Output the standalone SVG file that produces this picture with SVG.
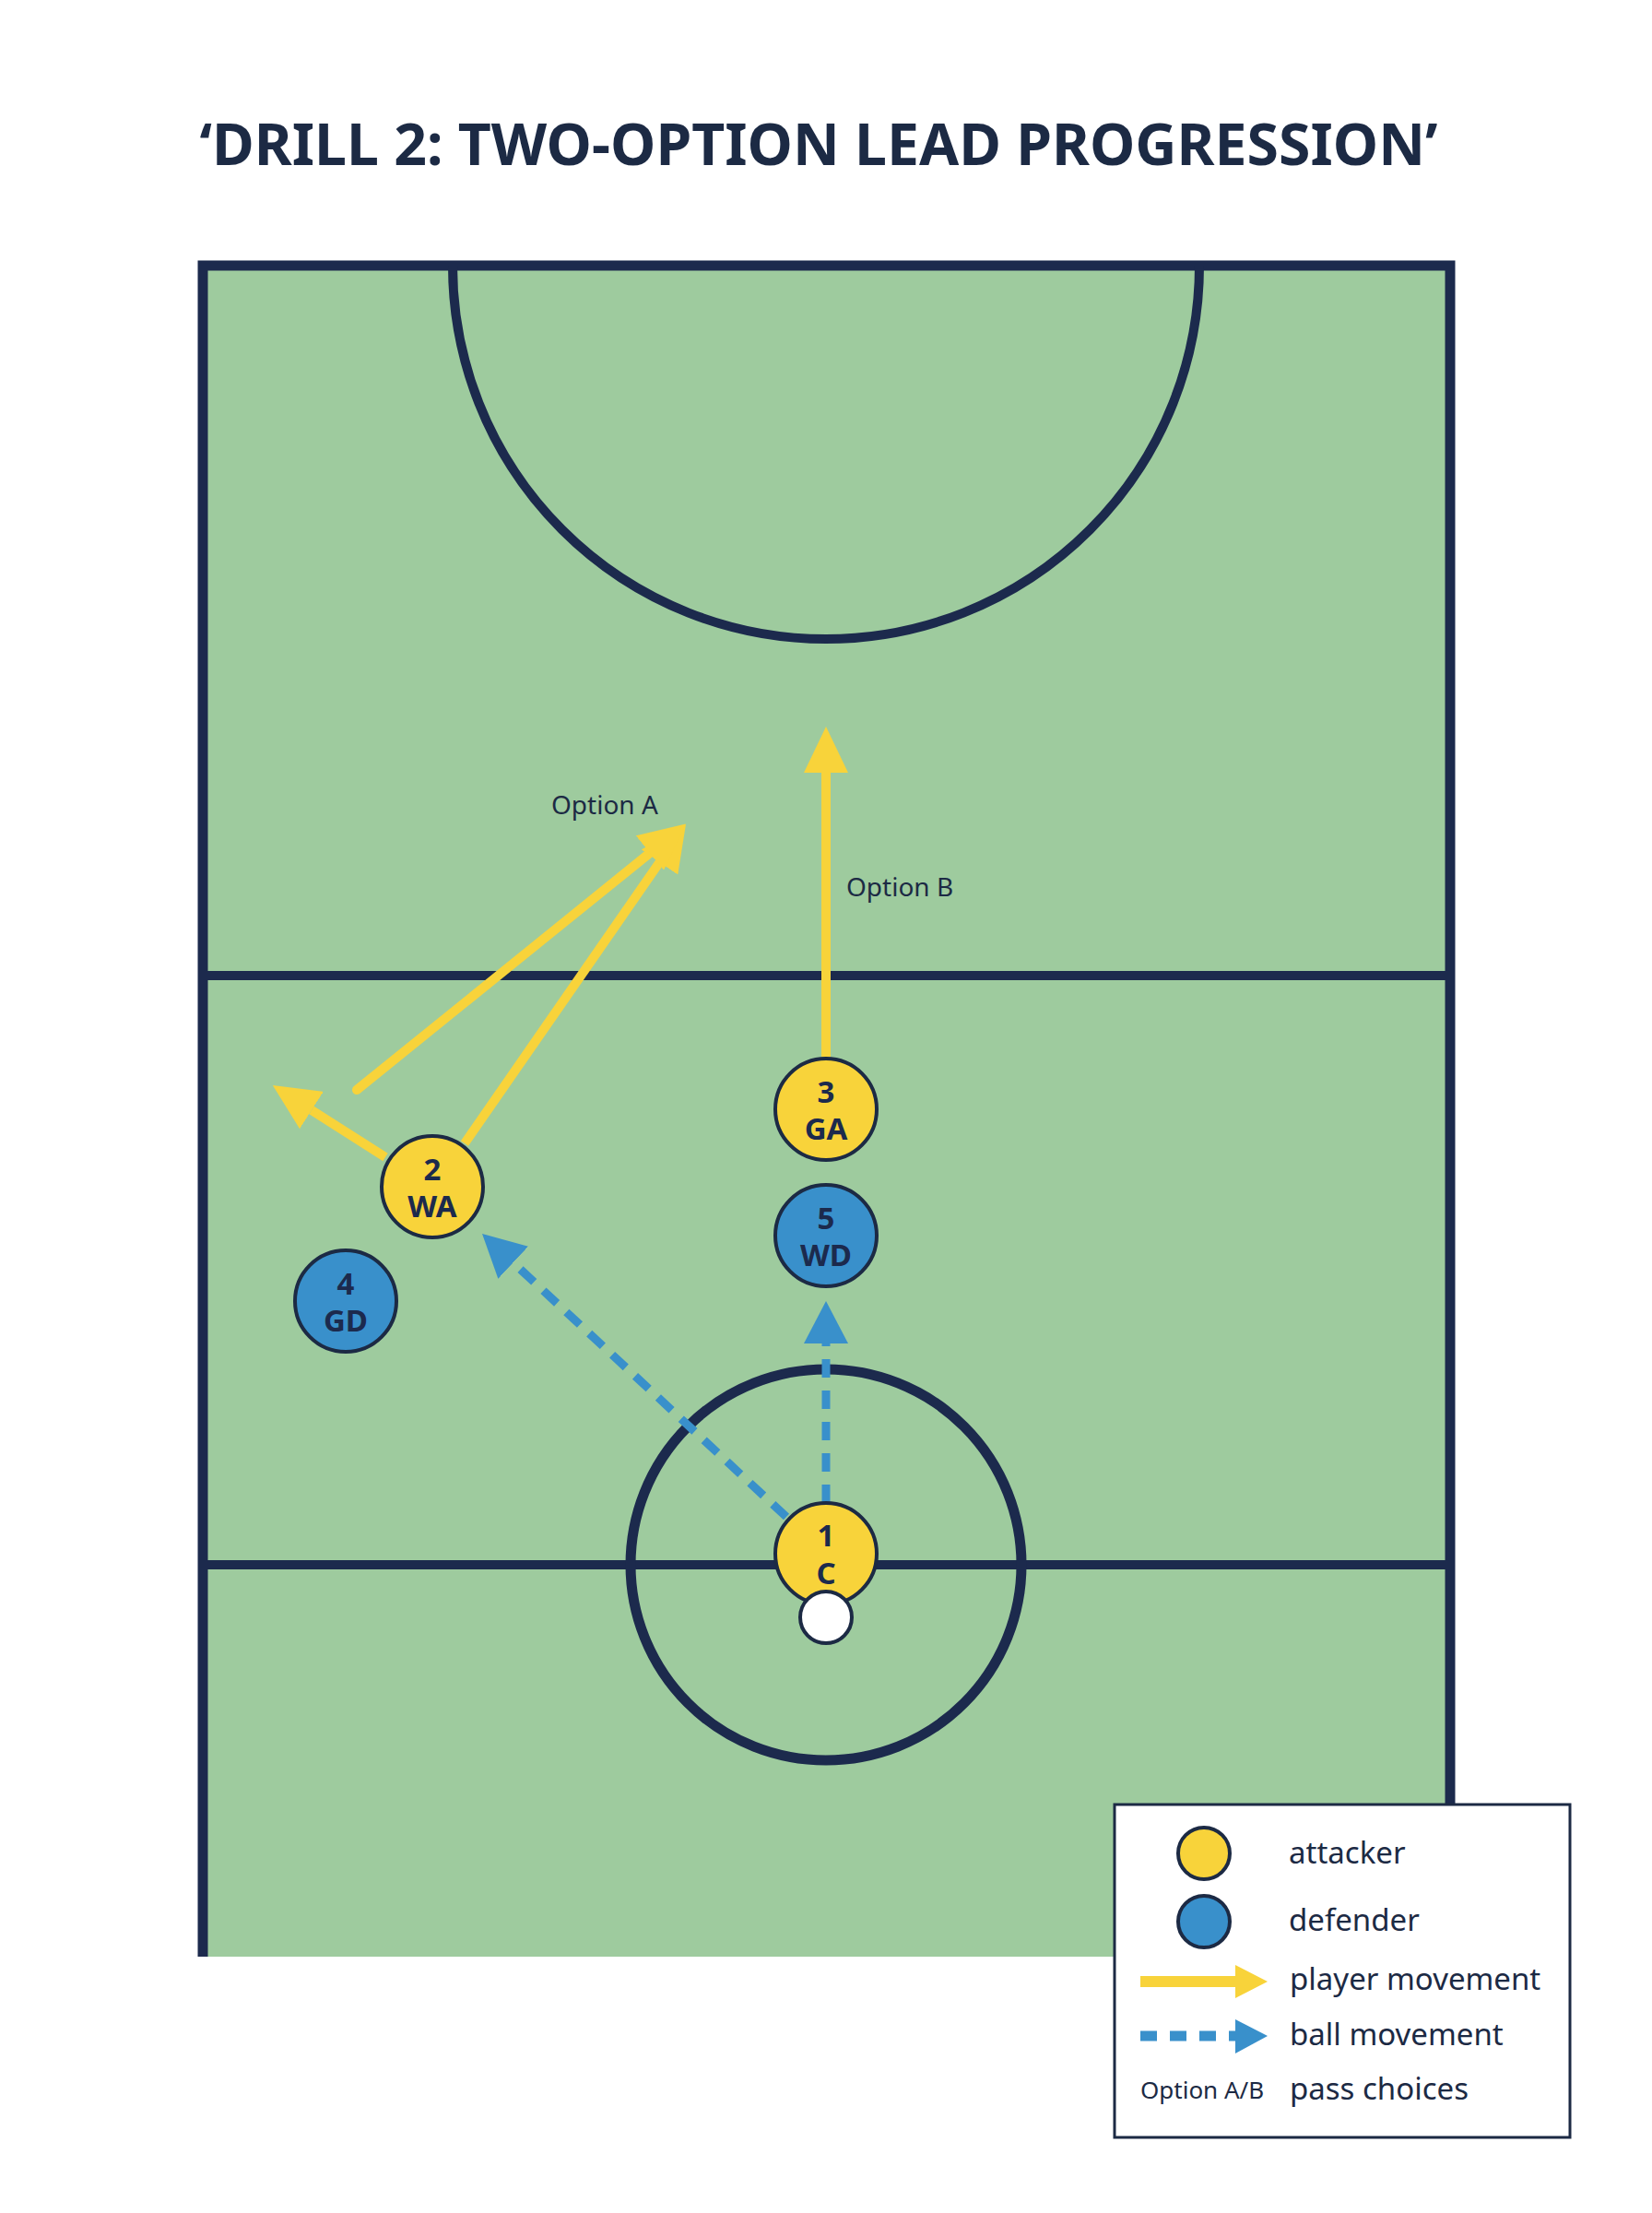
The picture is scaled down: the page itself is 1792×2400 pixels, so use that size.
<svg xmlns="http://www.w3.org/2000/svg" width="1792" height="2400" viewBox="0 0 1792 2400">
  <style>
    .line { fill: none; stroke: #1c2a4d; }
    .lbl { font-family: "Noto Sans", "Open Sans", sans-serif; fill: #1c2a44; }
    .pnum { font-family: "Noto Sans", "Open Sans", sans-serif; font-weight: 700; font-size: 33px; fill: #1c2a4d; text-anchor: middle; }
    .att { fill: #f8d33a; stroke: #1c2a44; stroke-width: 4; }
    .def { fill: #3990cb; stroke: #1c2a44; stroke-width: 4; }
    .move { fill: none; stroke: #f8d33a; stroke-width: 10; }
    .ball { fill: none; stroke: #3990cb; stroke-width: 9; stroke-dasharray: 20 14; }
  </style>
  <defs>
    <marker id="yhead" markerUnits="userSpaceOnUse" viewBox="0 0 50 48" refX="0" refY="24" markerWidth="50" markerHeight="48" orient="auto">
      <path d="M0,0 L50,24 L0,48 Z" fill="#f8d33a"/>
    </marker>
    <marker id="bhead" markerUnits="userSpaceOnUse" viewBox="0 0 46 48" refX="0" refY="24" markerWidth="46" markerHeight="48" orient="auto">
      <path d="M0,0 L46,24 L0,48 Z" fill="#3990cb"/>
    </marker>
  </defs>

  <rect width="1792" height="2400" fill="#ffffff"/>

  <text class="lbl" x="888" y="179" font-size="62" font-weight="700" text-anchor="middle" textLength="1343" lengthAdjust="spacingAndGlyphs" fill="#1e2b4d">‘DRILL 2: TWO-OPTION LEAD PROGRESSION’</text>

  <g id="court">
    <rect x="220" y="288" width="1353" height="1834" fill="#9ecb9e"/>
    <path class="line" d="M220,2122 V288 H1573 V2122" stroke-width="11"/>
    <path class="line" d="M491,288 A405,405 0 0 0 1301,288" stroke-width="10"/>
    <line class="line" x1="220" y1="1058" x2="1573" y2="1058" stroke-width="10"/>
    <line class="line" x1="220" y1="1697" x2="1573" y2="1697" stroke-width="10"/>
    <circle class="line" cx="896" cy="1697" r="212" stroke-width="11"/>
  </g>

  <g id="connectors">
    <line class="move" x1="896" y1="1146" x2="896" y2="838" marker-end="url(#yhead)"/>
    <line class="move" x1="504" y1="1240" x2="715.5" y2="935" marker-end="url(#yhead)"/>
    <line class="move" x1="387" y1="1182" x2="705" y2="925" stroke-linecap="round" marker-end="url(#yhead)"/>
    <line class="move" x1="418" y1="1255" x2="338" y2="1204" marker-end="url(#yhead)"/>
    <line class="ball" x1="853" y1="1645" x2="556.7" y2="1369.3" marker-end="url(#bhead)"/>
    <line class="ball" x1="896" y1="1630" x2="896" y2="1457" marker-end="url(#bhead)"/>
  </g>

  <text class="lbl" x="598" y="883" font-size="28">Option A</text>
  <text class="lbl" x="918" y="972" font-size="28">Option B</text>

  <g id="p3-ga">
    <circle class="att" cx="896" cy="1203" r="55"/>
    <text class="pnum" x="896" y="1196">3<tspan x="896" dy="40">GA</tspan></text>
  </g>
  <g id="p5-wd">
    <circle class="def" cx="896" cy="1340" r="55"/>
    <text class="pnum" x="896" y="1333">5<tspan x="896" dy="40">WD</tspan></text>
  </g>
  <g id="p2-wa">
    <circle class="att" cx="469" cy="1287" r="55"/>
    <text class="pnum" x="469" y="1280">2<tspan x="469" dy="40">WA</tspan></text>
  </g>
  <g id="p4-gd">
    <circle class="def" cx="375" cy="1411" r="55"/>
    <text class="pnum" x="375" y="1404">4<tspan x="375" dy="40">GD</tspan></text>
  </g>
  <g id="p1-c">
    <circle class="att" cx="896" cy="1685" r="55"/>
    <text class="pnum" x="896" y="1677">1<tspan x="896" dy="41">C</tspan></text>
  </g>
  <g id="ball">
    <circle cx="896" cy="1754" r="28" fill="#ffffff" stroke="#1c2a44" stroke-width="4"/>
  </g>

  <g id="legend">
    <rect x="1209" y="1957" width="494" height="361" fill="#ffffff" stroke="#1c2a44" stroke-width="3"/>
    <circle class="att" cx="1306" cy="2010" r="28"/>
    <text class="lbl" x="1398" y="2021" font-size="33">attacker</text>
    <circle class="def" cx="1306" cy="2084" r="28"/>
    <text class="lbl" x="1398" y="2094" font-size="33">defender</text>
    <line x1="1237" y1="2149" x2="1340" y2="2149" stroke="#f8d33a" stroke-width="12"/>
    <path d="M1340,2131 L1375,2149 L1340,2167 Z" fill="#f8d33a"/>
    <text class="lbl" x="1399" y="2158" font-size="33">player movement</text>
    <line x1="1237" y1="2208" x2="1340" y2="2208" stroke="#3990cb" stroke-width="11" stroke-dasharray="18 14"/>
    <path d="M1340,2190 L1375,2208 L1340,2227 Z" fill="#3990cb"/>
    <text class="lbl" x="1399" y="2218" font-size="33">ball movement</text>
    <text class="lbl" x="1237" y="2276" font-size="26">Option A/B</text>
    <text class="lbl" x="1399" y="2277" font-size="33">pass choices</text>
  </g>
</svg>
